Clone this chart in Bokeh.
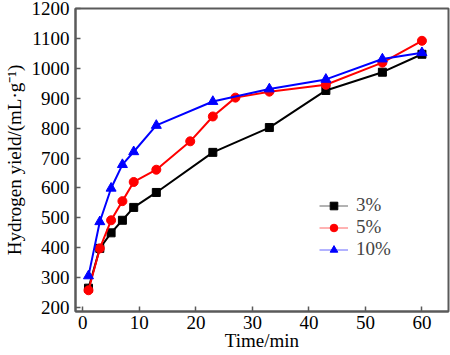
from bokeh.plotting import figure
from bokeh.models import Legend, LegendItem, FixedTicker, Range1d
from bokeh.embed import file_html
from bokeh.resources import INLINE

# data
x3 = [1, 3, 5, 7, 9, 13, 23, 33, 43, 53, 60]
y3 = [265, 398, 450, 492, 535, 585, 719, 802, 926, 987, 1047]
x5 = [1, 3, 5, 7, 9, 13, 19, 23, 27, 33, 43, 53, 60]
y5 = [258, 398, 492, 556, 620, 661, 756, 839, 902, 922, 945, 1019, 1092]
x10 = [1, 3, 5, 7, 9, 13, 23, 33, 43, 53, 60]
y10 = [306, 487, 599, 678, 721, 809, 889, 931, 963, 1031, 1052]
labels = ["3%", "5%", "10%"]
x_ticks = [0, 10, 20, 30, 40, 50, 60]
y_ticks = [200, 300, 400, 500, 600, 700, 800, 900, 1000, 1100, 1200]
x_title = "Time/min"
y_title = "Hydrogen yield/(mL\u00b7g\u207b\u00b9)"

FONT = "Liberation Serif"
GRAY = "#5a5a5a"

p = figure(width=450, height=355, output_backend="svg", toolbar_location=None,
           x_range=Range1d(-1.3, 64.7), y_range=Range1d(187, 1200),
           min_border_left=72, min_border_right=2, min_border_top=8, min_border_bottom=44)
p.background_fill_color = "white"
p.border_fill_color = "white"
p.outline_line_color = GRAY
p.outline_line_width = 2
p.xgrid.visible = False
p.ygrid.visible = False

for ax, ticks in ((p.xaxis[0], x_ticks), (p.yaxis[0], y_ticks)):
    ax.ticker = FixedTicker(ticks=ticks)
    ax.major_tick_in = 5
    ax.major_tick_out = 0
    ax.minor_tick_line_color = None
    ax.axis_line_color = GRAY
    ax.axis_line_width = 2
    ax.major_tick_line_color = GRAY
    ax.major_tick_line_width = 1.5
    ax.major_label_text_font = FONT
    ax.major_label_text_font_size = "19px"
    ax.major_label_text_font_style = "normal"
    ax.major_label_text_color = "black"
    ax.axis_label_text_font = FONT
    ax.axis_label_text_font_size = "19px"
    ax.axis_label_text_font_style = "normal"
    ax.axis_label_text_color = "black"

p.xaxis.axis_label = x_title
p.xaxis.major_label_standoff = 4
p.xaxis.axis_label_standoff = -2
p.yaxis.axis_label = y_title
p.yaxis.major_label_standoff = 6
p.yaxis.axis_label_standoff = 4

series = [
    (x3, y3, "black", "square", 8),
    (x5, y5, "red", "circle", 9),
    (x10, y10, "blue", "triangle", 10),
]
items = []
for (xs, ys, c, m, s), lab in zip(series, labels):
    p.line(xs, ys, line_color=c, line_width=2)
    p.scatter(xs, ys, marker=m, size=s, fill_color=c, line_color=c)
    lr = p.line([-100, -99], [-100, -99], line_color=c, line_width=1, line_alpha=0.6)
    sr = p.scatter([-100], [-100], marker=m, size=s, fill_color=c, line_color=c)
    items.append(LegendItem(label=lab, renderers=[lr, sr]))

legend = Legend(items=items, location=(244, 51), padding=0, margin=0, spacing=-2,
                glyph_width=29, glyph_height=19, label_height=19, label_standoff=8,
                label_text_font=FONT, label_text_font_size="19px",
                border_line_color=None, background_fill_alpha=0)
p.add_layout(legend, "center")

open("out.html", "w").write(file_html(p, INLINE))
